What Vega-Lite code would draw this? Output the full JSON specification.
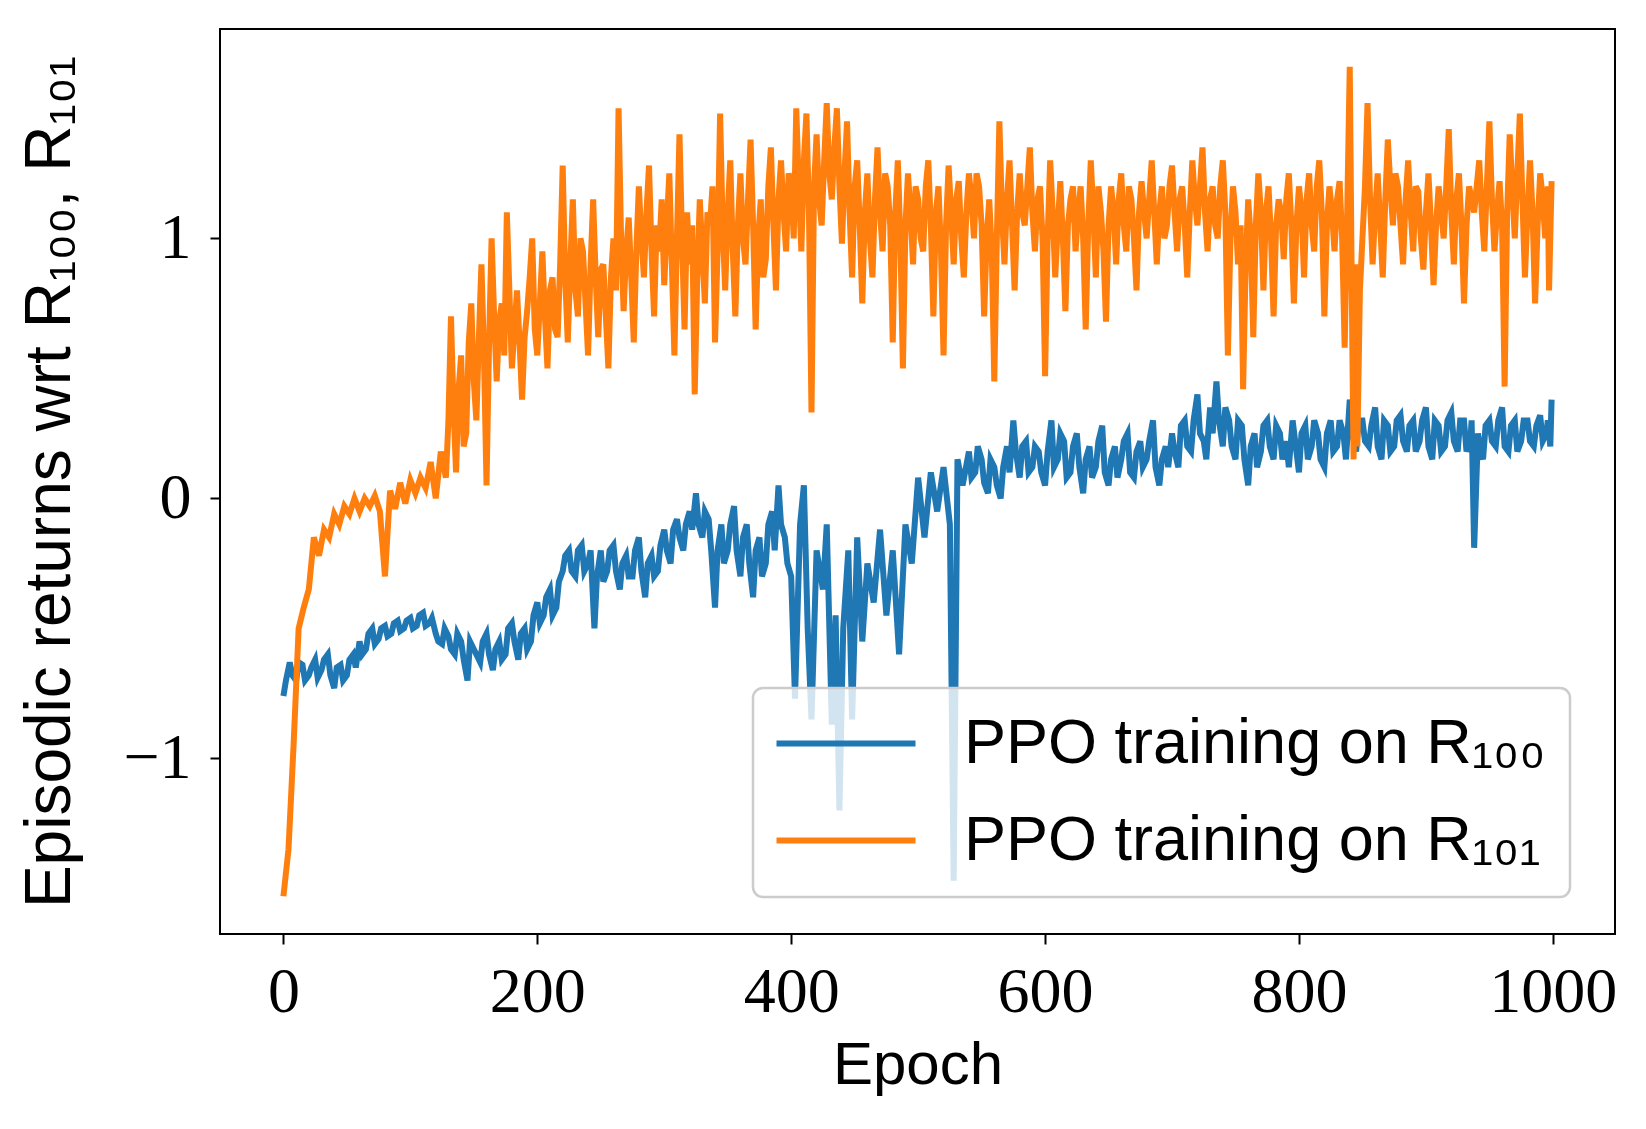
{
  "$schema": "https://vega.github.io/schema/vega-lite/v6.json",
  "width": 1395,
  "height": 905,
  "autosize": "none",
  "padding": {"left": 220, "top": 29, "right": 31, "bottom": 195},
  "background": "white",
  "datasets": {
    "r100": [
      {"epoch": 0, "run": "R₁₀₀", "ret": -0.76},
      {"epoch": 2, "run": "R₁₀₀", "ret": -0.7},
      {"epoch": 5, "run": "R₁₀₀", "ret": -0.63},
      {"epoch": 7, "run": "R₁₀₀", "ret": -0.68},
      {"epoch": 10, "run": "R₁₀₀", "ret": -0.7},
      {"epoch": 12, "run": "R₁₀₀", "ret": -0.63},
      {"epoch": 15, "run": "R₁₀₀", "ret": -0.64},
      {"epoch": 17, "run": "R₁₀₀", "ret": -0.7},
      {"epoch": 20, "run": "R₁₀₀", "ret": -0.68},
      {"epoch": 22, "run": "R₁₀₀", "ret": -0.65},
      {"epoch": 25, "run": "R₁₀₀", "ret": -0.62},
      {"epoch": 27, "run": "R₁₀₀", "ret": -0.69},
      {"epoch": 30, "run": "R₁₀₀", "ret": -0.66},
      {"epoch": 32, "run": "R₁₀₀", "ret": -0.62},
      {"epoch": 35, "run": "R₁₀₀", "ret": -0.6},
      {"epoch": 37, "run": "R₁₀₀", "ret": -0.68},
      {"epoch": 40, "run": "R₁₀₀", "ret": -0.73},
      {"epoch": 42, "run": "R₁₀₀", "ret": -0.65},
      {"epoch": 45, "run": "R₁₀₀", "ret": -0.64},
      {"epoch": 47, "run": "R₁₀₀", "ret": -0.7},
      {"epoch": 50, "run": "R₁₀₀", "ret": -0.68},
      {"epoch": 52, "run": "R₁₀₀", "ret": -0.62},
      {"epoch": 55, "run": "R₁₀₀", "ret": -0.6},
      {"epoch": 57, "run": "R₁₀₀", "ret": -0.65},
      {"epoch": 60, "run": "R₁₀₀", "ret": -0.55},
      {"epoch": 62, "run": "R₁₀₀", "ret": -0.6},
      {"epoch": 65, "run": "R₁₀₀", "ret": -0.58},
      {"epoch": 67, "run": "R₁₀₀", "ret": -0.52},
      {"epoch": 70, "run": "R₁₀₀", "ret": -0.5},
      {"epoch": 72, "run": "R₁₀₀", "ret": -0.56},
      {"epoch": 75, "run": "R₁₀₀", "ret": -0.54},
      {"epoch": 77, "run": "R₁₀₀", "ret": -0.5},
      {"epoch": 80, "run": "R₁₀₀", "ret": -0.49},
      {"epoch": 82, "run": "R₁₀₀", "ret": -0.53},
      {"epoch": 85, "run": "R₁₀₀", "ret": -0.52},
      {"epoch": 87, "run": "R₁₀₀", "ret": -0.48},
      {"epoch": 90, "run": "R₁₀₀", "ret": -0.47},
      {"epoch": 92, "run": "R₁₀₀", "ret": -0.51},
      {"epoch": 95, "run": "R₁₀₀", "ret": -0.5},
      {"epoch": 97, "run": "R₁₀₀", "ret": -0.47},
      {"epoch": 100, "run": "R₁₀₀", "ret": -0.46},
      {"epoch": 102, "run": "R₁₀₀", "ret": -0.5},
      {"epoch": 105, "run": "R₁₀₀", "ret": -0.49},
      {"epoch": 107, "run": "R₁₀₀", "ret": -0.45},
      {"epoch": 110, "run": "R₁₀₀", "ret": -0.44},
      {"epoch": 112, "run": "R₁₀₀", "ret": -0.49},
      {"epoch": 115, "run": "R₁₀₀", "ret": -0.48},
      {"epoch": 117, "run": "R₁₀₀", "ret": -0.46},
      {"epoch": 120, "run": "R₁₀₀", "ret": -0.52},
      {"epoch": 122, "run": "R₁₀₀", "ret": -0.55},
      {"epoch": 125, "run": "R₁₀₀", "ret": -0.56},
      {"epoch": 127, "run": "R₁₀₀", "ret": -0.5},
      {"epoch": 130, "run": "R₁₀₀", "ret": -0.53},
      {"epoch": 132, "run": "R₁₀₀", "ret": -0.58},
      {"epoch": 135, "run": "R₁₀₀", "ret": -0.6},
      {"epoch": 137, "run": "R₁₀₀", "ret": -0.52},
      {"epoch": 140, "run": "R₁₀₀", "ret": -0.55},
      {"epoch": 142, "run": "R₁₀₀", "ret": -0.62},
      {"epoch": 145, "run": "R₁₀₀", "ret": -0.7},
      {"epoch": 147, "run": "R₁₀₀", "ret": -0.55},
      {"epoch": 150, "run": "R₁₀₀", "ret": -0.58},
      {"epoch": 152, "run": "R₁₀₀", "ret": -0.6},
      {"epoch": 155, "run": "R₁₀₀", "ret": -0.63},
      {"epoch": 157, "run": "R₁₀₀", "ret": -0.55},
      {"epoch": 160, "run": "R₁₀₀", "ret": -0.52},
      {"epoch": 162, "run": "R₁₀₀", "ret": -0.6},
      {"epoch": 165, "run": "R₁₀₀", "ret": -0.66},
      {"epoch": 167, "run": "R₁₀₀", "ret": -0.58},
      {"epoch": 170, "run": "R₁₀₀", "ret": -0.55},
      {"epoch": 172, "run": "R₁₀₀", "ret": -0.62},
      {"epoch": 175, "run": "R₁₀₀", "ret": -0.6},
      {"epoch": 177, "run": "R₁₀₀", "ret": -0.5},
      {"epoch": 180, "run": "R₁₀₀", "ret": -0.48},
      {"epoch": 182, "run": "R₁₀₀", "ret": -0.55},
      {"epoch": 185, "run": "R₁₀₀", "ret": -0.62},
      {"epoch": 187, "run": "R₁₀₀", "ret": -0.52},
      {"epoch": 190, "run": "R₁₀₀", "ret": -0.5},
      {"epoch": 192, "run": "R₁₀₀", "ret": -0.58},
      {"epoch": 195, "run": "R₁₀₀", "ret": -0.55},
      {"epoch": 197, "run": "R₁₀₀", "ret": -0.45},
      {"epoch": 200, "run": "R₁₀₀", "ret": -0.4},
      {"epoch": 202, "run": "R₁₀₀", "ret": -0.48},
      {"epoch": 205, "run": "R₁₀₀", "ret": -0.45},
      {"epoch": 207, "run": "R₁₀₀", "ret": -0.38},
      {"epoch": 210, "run": "R₁₀₀", "ret": -0.35},
      {"epoch": 212, "run": "R₁₀₀", "ret": -0.45},
      {"epoch": 215, "run": "R₁₀₀", "ret": -0.42},
      {"epoch": 217, "run": "R₁₀₀", "ret": -0.32},
      {"epoch": 220, "run": "R₁₀₀", "ret": -0.28},
      {"epoch": 222, "run": "R₁₀₀", "ret": -0.22},
      {"epoch": 225, "run": "R₁₀₀", "ret": -0.2},
      {"epoch": 227, "run": "R₁₀₀", "ret": -0.28},
      {"epoch": 230, "run": "R₁₀₀", "ret": -0.3},
      {"epoch": 232, "run": "R₁₀₀", "ret": -0.2},
      {"epoch": 235, "run": "R₁₀₀", "ret": -0.18},
      {"epoch": 237, "run": "R₁₀₀", "ret": -0.28},
      {"epoch": 240, "run": "R₁₀₀", "ret": -0.25},
      {"epoch": 242, "run": "R₁₀₀", "ret": -0.2},
      {"epoch": 245, "run": "R₁₀₀", "ret": -0.5},
      {"epoch": 247, "run": "R₁₀₀", "ret": -0.3},
      {"epoch": 250, "run": "R₁₀₀", "ret": -0.2},
      {"epoch": 252, "run": "R₁₀₀", "ret": -0.32},
      {"epoch": 255, "run": "R₁₀₀", "ret": -0.28},
      {"epoch": 257, "run": "R₁₀₀", "ret": -0.2},
      {"epoch": 260, "run": "R₁₀₀", "ret": -0.18},
      {"epoch": 262, "run": "R₁₀₀", "ret": -0.28},
      {"epoch": 265, "run": "R₁₀₀", "ret": -0.35},
      {"epoch": 267, "run": "R₁₀₀", "ret": -0.25},
      {"epoch": 270, "run": "R₁₀₀", "ret": -0.22},
      {"epoch": 272, "run": "R₁₀₀", "ret": -0.3},
      {"epoch": 275, "run": "R₁₀₀", "ret": -0.3},
      {"epoch": 277, "run": "R₁₀₀", "ret": -0.2},
      {"epoch": 280, "run": "R₁₀₀", "ret": -0.15},
      {"epoch": 282, "run": "R₁₀₀", "ret": -0.28},
      {"epoch": 285, "run": "R₁₀₀", "ret": -0.38},
      {"epoch": 287, "run": "R₁₀₀", "ret": -0.25},
      {"epoch": 290, "run": "R₁₀₀", "ret": -0.22},
      {"epoch": 292, "run": "R₁₀₀", "ret": -0.3},
      {"epoch": 295, "run": "R₁₀₀", "ret": -0.28},
      {"epoch": 297, "run": "R₁₀₀", "ret": -0.18},
      {"epoch": 300, "run": "R₁₀₀", "ret": -0.12},
      {"epoch": 302, "run": "R₁₀₀", "ret": -0.2},
      {"epoch": 305, "run": "R₁₀₀", "ret": -0.25},
      {"epoch": 307, "run": "R₁₀₀", "ret": -0.12},
      {"epoch": 310, "run": "R₁₀₀", "ret": -0.08},
      {"epoch": 312, "run": "R₁₀₀", "ret": -0.15},
      {"epoch": 315, "run": "R₁₀₀", "ret": -0.2},
      {"epoch": 317, "run": "R₁₀₀", "ret": -0.1},
      {"epoch": 320, "run": "R₁₀₀", "ret": -0.05},
      {"epoch": 322, "run": "R₁₀₀", "ret": -0.12},
      {"epoch": 325, "run": "R₁₀₀", "ret": 0.02},
      {"epoch": 327, "run": "R₁₀₀", "ret": -0.1},
      {"epoch": 330, "run": "R₁₀₀", "ret": -0.15},
      {"epoch": 332, "run": "R₁₀₀", "ret": -0.05},
      {"epoch": 335, "run": "R₁₀₀", "ret": -0.08},
      {"epoch": 337, "run": "R₁₀₀", "ret": -0.2},
      {"epoch": 340, "run": "R₁₀₀", "ret": -0.42},
      {"epoch": 342, "run": "R₁₀₀", "ret": -0.2},
      {"epoch": 345, "run": "R₁₀₀", "ret": -0.1},
      {"epoch": 347, "run": "R₁₀₀", "ret": -0.25},
      {"epoch": 350, "run": "R₁₀₀", "ret": -0.2},
      {"epoch": 352, "run": "R₁₀₀", "ret": -0.1},
      {"epoch": 355, "run": "R₁₀₀", "ret": -0.03},
      {"epoch": 357, "run": "R₁₀₀", "ret": -0.2},
      {"epoch": 360, "run": "R₁₀₀", "ret": -0.3},
      {"epoch": 362, "run": "R₁₀₀", "ret": -0.15},
      {"epoch": 365, "run": "R₁₀₀", "ret": -0.1},
      {"epoch": 367, "run": "R₁₀₀", "ret": -0.25},
      {"epoch": 370, "run": "R₁₀₀", "ret": -0.38},
      {"epoch": 372, "run": "R₁₀₀", "ret": -0.2},
      {"epoch": 375, "run": "R₁₀₀", "ret": -0.15},
      {"epoch": 377, "run": "R₁₀₀", "ret": -0.3},
      {"epoch": 380, "run": "R₁₀₀", "ret": -0.25},
      {"epoch": 382, "run": "R₁₀₀", "ret": -0.1},
      {"epoch": 385, "run": "R₁₀₀", "ret": -0.05},
      {"epoch": 387, "run": "R₁₀₀", "ret": -0.2},
      {"epoch": 390, "run": "R₁₀₀", "ret": 0.05},
      {"epoch": 392, "run": "R₁₀₀", "ret": -0.1},
      {"epoch": 395, "run": "R₁₀₀", "ret": -0.15},
      {"epoch": 397, "run": "R₁₀₀", "ret": -0.25},
      {"epoch": 400, "run": "R₁₀₀", "ret": -0.3},
      {"epoch": 403, "run": "R₁₀₀", "ret": -0.77},
      {"epoch": 407, "run": "R₁₀₀", "ret": -0.1},
      {"epoch": 410, "run": "R₁₀₀", "ret": 0.05},
      {"epoch": 413, "run": "R₁₀₀", "ret": -0.5},
      {"epoch": 416, "run": "R₁₀₀", "ret": -0.85},
      {"epoch": 420, "run": "R₁₀₀", "ret": -0.2},
      {"epoch": 425, "run": "R₁₀₀", "ret": -0.35},
      {"epoch": 428, "run": "R₁₀₀", "ret": -0.1},
      {"epoch": 432, "run": "R₁₀₀", "ret": -0.87},
      {"epoch": 435, "run": "R₁₀₀", "ret": -0.45},
      {"epoch": 438, "run": "R₁₀₀", "ret": -1.2},
      {"epoch": 441, "run": "R₁₀₀", "ret": -0.5},
      {"epoch": 445, "run": "R₁₀₀", "ret": -0.2},
      {"epoch": 448, "run": "R₁₀₀", "ret": -0.85},
      {"epoch": 452, "run": "R₁₀₀", "ret": -0.15},
      {"epoch": 456, "run": "R₁₀₀", "ret": -0.55},
      {"epoch": 460, "run": "R₁₀₀", "ret": -0.25},
      {"epoch": 465, "run": "R₁₀₀", "ret": -0.4},
      {"epoch": 470, "run": "R₁₀₀", "ret": -0.12},
      {"epoch": 475, "run": "R₁₀₀", "ret": -0.45},
      {"epoch": 480, "run": "R₁₀₀", "ret": -0.2},
      {"epoch": 485, "run": "R₁₀₀", "ret": -0.6},
      {"epoch": 490, "run": "R₁₀₀", "ret": -0.1},
      {"epoch": 495, "run": "R₁₀₀", "ret": -0.25},
      {"epoch": 500, "run": "R₁₀₀", "ret": 0.08},
      {"epoch": 505, "run": "R₁₀₀", "ret": -0.15},
      {"epoch": 510, "run": "R₁₀₀", "ret": 0.1},
      {"epoch": 515, "run": "R₁₀₀", "ret": -0.05},
      {"epoch": 520, "run": "R₁₀₀", "ret": 0.12},
      {"epoch": 525, "run": "R₁₀₀", "ret": -0.1},
      {"epoch": 528, "run": "R₁₀₀", "ret": -1.47},
      {"epoch": 531, "run": "R₁₀₀", "ret": 0.15},
      {"epoch": 535, "run": "R₁₀₀", "ret": 0.05},
      {"epoch": 540, "run": "R₁₀₀", "ret": 0.18},
      {"epoch": 542, "run": "R₁₀₀", "ret": 0.08},
      {"epoch": 545, "run": "R₁₀₀", "ret": 0.1},
      {"epoch": 547, "run": "R₁₀₀", "ret": 0.2},
      {"epoch": 550, "run": "R₁₀₀", "ret": 0.15},
      {"epoch": 552, "run": "R₁₀₀", "ret": 0.06},
      {"epoch": 555, "run": "R₁₀₀", "ret": 0.02},
      {"epoch": 557, "run": "R₁₀₀", "ret": 0.15},
      {"epoch": 560, "run": "R₁₀₀", "ret": 0.12},
      {"epoch": 562, "run": "R₁₀₀", "ret": 0.05},
      {"epoch": 565, "run": "R₁₀₀", "ret": 0.0},
      {"epoch": 567, "run": "R₁₀₀", "ret": 0.12},
      {"epoch": 570, "run": "R₁₀₀", "ret": 0.2},
      {"epoch": 572, "run": "R₁₀₀", "ret": 0.1},
      {"epoch": 575, "run": "R₁₀₀", "ret": 0.3},
      {"epoch": 577, "run": "R₁₀₀", "ret": 0.18},
      {"epoch": 580, "run": "R₁₀₀", "ret": 0.08},
      {"epoch": 582, "run": "R₁₀₀", "ret": 0.2},
      {"epoch": 585, "run": "R₁₀₀", "ret": 0.22},
      {"epoch": 587, "run": "R₁₀₀", "ret": 0.1},
      {"epoch": 590, "run": "R₁₀₀", "ret": 0.12},
      {"epoch": 592, "run": "R₁₀₀", "ret": 0.2},
      {"epoch": 595, "run": "R₁₀₀", "ret": 0.18},
      {"epoch": 597, "run": "R₁₀₀", "ret": 0.1},
      {"epoch": 600, "run": "R₁₀₀", "ret": 0.05},
      {"epoch": 602, "run": "R₁₀₀", "ret": 0.18},
      {"epoch": 605, "run": "R₁₀₀", "ret": 0.3},
      {"epoch": 607, "run": "R₁₀₀", "ret": 0.12},
      {"epoch": 610, "run": "R₁₀₀", "ret": 0.15},
      {"epoch": 612, "run": "R₁₀₀", "ret": 0.25},
      {"epoch": 615, "run": "R₁₀₀", "ret": 0.22},
      {"epoch": 617, "run": "R₁₀₀", "ret": 0.08},
      {"epoch": 620, "run": "R₁₀₀", "ret": 0.1},
      {"epoch": 622, "run": "R₁₀₀", "ret": 0.2},
      {"epoch": 625, "run": "R₁₀₀", "ret": 0.25},
      {"epoch": 627, "run": "R₁₀₀", "ret": 0.12},
      {"epoch": 630, "run": "R₁₀₀", "ret": 0.02},
      {"epoch": 632, "run": "R₁₀₀", "ret": 0.15},
      {"epoch": 635, "run": "R₁₀₀", "ret": 0.2},
      {"epoch": 637, "run": "R₁₀₀", "ret": 0.08},
      {"epoch": 640, "run": "R₁₀₀", "ret": 0.12},
      {"epoch": 642, "run": "R₁₀₀", "ret": 0.22},
      {"epoch": 645, "run": "R₁₀₀", "ret": 0.28},
      {"epoch": 647, "run": "R₁₀₀", "ret": 0.1},
      {"epoch": 650, "run": "R₁₀₀", "ret": 0.05},
      {"epoch": 652, "run": "R₁₀₀", "ret": 0.15},
      {"epoch": 655, "run": "R₁₀₀", "ret": 0.2},
      {"epoch": 657, "run": "R₁₀₀", "ret": 0.08},
      {"epoch": 660, "run": "R₁₀₀", "ret": 0.15},
      {"epoch": 662, "run": "R₁₀₀", "ret": 0.22},
      {"epoch": 665, "run": "R₁₀₀", "ret": 0.25},
      {"epoch": 667, "run": "R₁₀₀", "ret": 0.1},
      {"epoch": 670, "run": "R₁₀₀", "ret": 0.08},
      {"epoch": 672, "run": "R₁₀₀", "ret": 0.18},
      {"epoch": 675, "run": "R₁₀₀", "ret": 0.22},
      {"epoch": 677, "run": "R₁₀₀", "ret": 0.12},
      {"epoch": 680, "run": "R₁₀₀", "ret": 0.15},
      {"epoch": 682, "run": "R₁₀₀", "ret": 0.22},
      {"epoch": 685, "run": "R₁₀₀", "ret": 0.3},
      {"epoch": 687, "run": "R₁₀₀", "ret": 0.12},
      {"epoch": 690, "run": "R₁₀₀", "ret": 0.05},
      {"epoch": 692, "run": "R₁₀₀", "ret": 0.15},
      {"epoch": 695, "run": "R₁₀₀", "ret": 0.2},
      {"epoch": 697, "run": "R₁₀₀", "ret": 0.12},
      {"epoch": 700, "run": "R₁₀₀", "ret": 0.25},
      {"epoch": 702, "run": "R₁₀₀", "ret": 0.18},
      {"epoch": 705, "run": "R₁₀₀", "ret": 0.12},
      {"epoch": 707, "run": "R₁₀₀", "ret": 0.28},
      {"epoch": 710, "run": "R₁₀₀", "ret": 0.3},
      {"epoch": 712, "run": "R₁₀₀", "ret": 0.2},
      {"epoch": 715, "run": "R₁₀₀", "ret": 0.18},
      {"epoch": 717, "run": "R₁₀₀", "ret": 0.3},
      {"epoch": 720, "run": "R₁₀₀", "ret": 0.4},
      {"epoch": 722, "run": "R₁₀₀", "ret": 0.25},
      {"epoch": 725, "run": "R₁₀₀", "ret": 0.22},
      {"epoch": 727, "run": "R₁₀₀", "ret": 0.15},
      {"epoch": 730, "run": "R₁₀₀", "ret": 0.35},
      {"epoch": 732, "run": "R₁₀₀", "ret": 0.25},
      {"epoch": 735, "run": "R₁₀₀", "ret": 0.45},
      {"epoch": 737, "run": "R₁₀₀", "ret": 0.3},
      {"epoch": 740, "run": "R₁₀₀", "ret": 0.2},
      {"epoch": 742, "run": "R₁₀₀", "ret": 0.35},
      {"epoch": 745, "run": "R₁₀₀", "ret": 0.3},
      {"epoch": 747, "run": "R₁₀₀", "ret": 0.2},
      {"epoch": 750, "run": "R₁₀₀", "ret": 0.15},
      {"epoch": 752, "run": "R₁₀₀", "ret": 0.3},
      {"epoch": 755, "run": "R₁₀₀", "ret": 0.28},
      {"epoch": 757, "run": "R₁₀₀", "ret": 0.15},
      {"epoch": 760, "run": "R₁₀₀", "ret": 0.05},
      {"epoch": 762, "run": "R₁₀₀", "ret": 0.2},
      {"epoch": 765, "run": "R₁₀₀", "ret": 0.25},
      {"epoch": 767, "run": "R₁₀₀", "ret": 0.12},
      {"epoch": 770, "run": "R₁₀₀", "ret": 0.18},
      {"epoch": 772, "run": "R₁₀₀", "ret": 0.28},
      {"epoch": 775, "run": "R₁₀₀", "ret": 0.3},
      {"epoch": 777, "run": "R₁₀₀", "ret": 0.2},
      {"epoch": 780, "run": "R₁₀₀", "ret": 0.15},
      {"epoch": 782, "run": "R₁₀₀", "ret": 0.28},
      {"epoch": 785, "run": "R₁₀₀", "ret": 0.25},
      {"epoch": 787, "run": "R₁₀₀", "ret": 0.15},
      {"epoch": 790, "run": "R₁₀₀", "ret": 0.22},
      {"epoch": 792, "run": "R₁₀₀", "ret": 0.12},
      {"epoch": 795, "run": "R₁₀₀", "ret": 0.3},
      {"epoch": 797, "run": "R₁₀₀", "ret": 0.22},
      {"epoch": 800, "run": "R₁₀₀", "ret": 0.1},
      {"epoch": 802, "run": "R₁₀₀", "ret": 0.25},
      {"epoch": 805, "run": "R₁₀₀", "ret": 0.28},
      {"epoch": 807, "run": "R₁₀₀", "ret": 0.15},
      {"epoch": 810, "run": "R₁₀₀", "ret": 0.2},
      {"epoch": 812, "run": "R₁₀₀", "ret": 0.3},
      {"epoch": 815, "run": "R₁₀₀", "ret": 0.25},
      {"epoch": 817, "run": "R₁₀₀", "ret": 0.15},
      {"epoch": 820, "run": "R₁₀₀", "ret": 0.12},
      {"epoch": 822, "run": "R₁₀₀", "ret": 0.25},
      {"epoch": 825, "run": "R₁₀₀", "ret": 0.3},
      {"epoch": 827, "run": "R₁₀₀", "ret": 0.18},
      {"epoch": 830, "run": "R₁₀₀", "ret": 0.2},
      {"epoch": 832, "run": "R₁₀₀", "ret": 0.3},
      {"epoch": 835, "run": "R₁₀₀", "ret": 0.25},
      {"epoch": 837, "run": "R₁₀₀", "ret": 0.15},
      {"epoch": 840, "run": "R₁₀₀", "ret": 0.38},
      {"epoch": 842, "run": "R₁₀₀", "ret": 0.25},
      {"epoch": 845, "run": "R₁₀₀", "ret": 0.18},
      {"epoch": 847, "run": "R₁₀₀", "ret": 0.3},
      {"epoch": 850, "run": "R₁₀₀", "ret": 0.3},
      {"epoch": 852, "run": "R₁₀₀", "ret": 0.22},
      {"epoch": 855, "run": "R₁₀₀", "ret": 0.2},
      {"epoch": 857, "run": "R₁₀₀", "ret": 0.28},
      {"epoch": 860, "run": "R₁₀₀", "ret": 0.35},
      {"epoch": 862, "run": "R₁₀₀", "ret": 0.2},
      {"epoch": 865, "run": "R₁₀₀", "ret": 0.15},
      {"epoch": 867, "run": "R₁₀₀", "ret": 0.3},
      {"epoch": 870, "run": "R₁₀₀", "ret": 0.28},
      {"epoch": 872, "run": "R₁₀₀", "ret": 0.18},
      {"epoch": 875, "run": "R₁₀₀", "ret": 0.2},
      {"epoch": 877, "run": "R₁₀₀", "ret": 0.3},
      {"epoch": 880, "run": "R₁₀₀", "ret": 0.32},
      {"epoch": 882, "run": "R₁₀₀", "ret": 0.22},
      {"epoch": 885, "run": "R₁₀₀", "ret": 0.18},
      {"epoch": 887, "run": "R₁₀₀", "ret": 0.28},
      {"epoch": 890, "run": "R₁₀₀", "ret": 0.3},
      {"epoch": 892, "run": "R₁₀₀", "ret": 0.18},
      {"epoch": 895, "run": "R₁₀₀", "ret": 0.22},
      {"epoch": 897, "run": "R₁₀₀", "ret": 0.3},
      {"epoch": 900, "run": "R₁₀₀", "ret": 0.35},
      {"epoch": 902, "run": "R₁₀₀", "ret": 0.2},
      {"epoch": 905, "run": "R₁₀₀", "ret": 0.15},
      {"epoch": 907, "run": "R₁₀₀", "ret": 0.3},
      {"epoch": 910, "run": "R₁₀₀", "ret": 0.28},
      {"epoch": 912, "run": "R₁₀₀", "ret": 0.18},
      {"epoch": 915, "run": "R₁₀₀", "ret": 0.2},
      {"epoch": 917, "run": "R₁₀₀", "ret": 0.3},
      {"epoch": 920, "run": "R₁₀₀", "ret": 0.33},
      {"epoch": 922, "run": "R₁₀₀", "ret": 0.22},
      {"epoch": 925, "run": "R₁₀₀", "ret": 0.18},
      {"epoch": 927, "run": "R₁₀₀", "ret": 0.3},
      {"epoch": 930, "run": "R₁₀₀", "ret": 0.3},
      {"epoch": 932, "run": "R₁₀₀", "ret": 0.18},
      {"epoch": 935, "run": "R₁₀₀", "ret": 0.22},
      {"epoch": 936, "run": "R₁₀₀", "ret": 0.3},
      {"epoch": 938, "run": "R₁₀₀", "ret": -0.19},
      {"epoch": 941, "run": "R₁₀₀", "ret": 0.25},
      {"epoch": 943, "run": "R₁₀₀", "ret": 0.18},
      {"epoch": 945, "run": "R₁₀₀", "ret": 0.15},
      {"epoch": 947, "run": "R₁₀₀", "ret": 0.28},
      {"epoch": 950, "run": "R₁₀₀", "ret": 0.3},
      {"epoch": 952, "run": "R₁₀₀", "ret": 0.22},
      {"epoch": 955, "run": "R₁₀₀", "ret": 0.2},
      {"epoch": 957, "run": "R₁₀₀", "ret": 0.3},
      {"epoch": 960, "run": "R₁₀₀", "ret": 0.35},
      {"epoch": 962, "run": "R₁₀₀", "ret": 0.2},
      {"epoch": 965, "run": "R₁₀₀", "ret": 0.18},
      {"epoch": 967, "run": "R₁₀₀", "ret": 0.28},
      {"epoch": 970, "run": "R₁₀₀", "ret": 0.3},
      {"epoch": 972, "run": "R₁₀₀", "ret": 0.18},
      {"epoch": 975, "run": "R₁₀₀", "ret": 0.22},
      {"epoch": 977, "run": "R₁₀₀", "ret": 0.3},
      {"epoch": 980, "run": "R₁₀₀", "ret": 0.3},
      {"epoch": 982, "run": "R₁₀₀", "ret": 0.22},
      {"epoch": 985, "run": "R₁₀₀", "ret": 0.2},
      {"epoch": 987, "run": "R₁₀₀", "ret": 0.28},
      {"epoch": 990, "run": "R₁₀₀", "ret": 0.32},
      {"epoch": 992, "run": "R₁₀₀", "ret": 0.22},
      {"epoch": 995, "run": "R₁₀₀", "ret": 0.25},
      {"epoch": 996, "run": "R₁₀₀", "ret": 0.3},
      {"epoch": 998, "run": "R₁₀₀", "ret": 0.2},
      {"epoch": 999, "run": "R₁₀₀", "ret": 0.38}
    ],
    "r101": [
      {"epoch": 0, "run": "R₁₀₁", "ret": -1.53},
      {"epoch": 4, "run": "R₁₀₁", "ret": -1.35},
      {"epoch": 8, "run": "R₁₀₁", "ret": -0.95},
      {"epoch": 12, "run": "R₁₀₁", "ret": -0.5},
      {"epoch": 16, "run": "R₁₀₁", "ret": -0.42},
      {"epoch": 20, "run": "R₁₀₁", "ret": -0.35},
      {"epoch": 24, "run": "R₁₀₁", "ret": -0.15},
      {"epoch": 28, "run": "R₁₀₁", "ret": -0.22},
      {"epoch": 32, "run": "R₁₀₁", "ret": -0.12},
      {"epoch": 36, "run": "R₁₀₁", "ret": -0.15},
      {"epoch": 40, "run": "R₁₀₁", "ret": -0.06},
      {"epoch": 44, "run": "R₁₀₁", "ret": -0.1},
      {"epoch": 48, "run": "R₁₀₁", "ret": -0.03},
      {"epoch": 52, "run": "R₁₀₁", "ret": -0.06},
      {"epoch": 56, "run": "R₁₀₁", "ret": 0.0},
      {"epoch": 60, "run": "R₁₀₁", "ret": -0.05},
      {"epoch": 64, "run": "R₁₀₁", "ret": 0.0},
      {"epoch": 68, "run": "R₁₀₁", "ret": -0.03},
      {"epoch": 72, "run": "R₁₀₁", "ret": 0.01},
      {"epoch": 76, "run": "R₁₀₁", "ret": -0.05},
      {"epoch": 80, "run": "R₁₀₁", "ret": -0.3},
      {"epoch": 84, "run": "R₁₀₁", "ret": 0.03},
      {"epoch": 88, "run": "R₁₀₁", "ret": -0.04},
      {"epoch": 92, "run": "R₁₀₁", "ret": 0.06},
      {"epoch": 96, "run": "R₁₀₁", "ret": -0.02},
      {"epoch": 100, "run": "R₁₀₁", "ret": 0.07},
      {"epoch": 104, "run": "R₁₀₁", "ret": 0.02},
      {"epoch": 108, "run": "R₁₀₁", "ret": 0.08},
      {"epoch": 112, "run": "R₁₀₁", "ret": 0.04},
      {"epoch": 116, "run": "R₁₀₁", "ret": 0.14},
      {"epoch": 120, "run": "R₁₀₁", "ret": 0.0},
      {"epoch": 124, "run": "R₁₀₁", "ret": 0.18},
      {"epoch": 128, "run": "R₁₀₁", "ret": 0.08},
      {"epoch": 130, "run": "R₁₀₁", "ret": 0.3},
      {"epoch": 132, "run": "R₁₀₁", "ret": 0.7},
      {"epoch": 134, "run": "R₁₀₁", "ret": 0.35},
      {"epoch": 136, "run": "R₁₀₁", "ret": 0.1},
      {"epoch": 138, "run": "R₁₀₁", "ret": 0.42},
      {"epoch": 140, "run": "R₁₀₁", "ret": 0.55},
      {"epoch": 142, "run": "R₁₀₁", "ret": 0.2},
      {"epoch": 144, "run": "R₁₀₁", "ret": 0.25},
      {"epoch": 146, "run": "R₁₀₁", "ret": 0.6},
      {"epoch": 148, "run": "R₁₀₁", "ret": 0.75},
      {"epoch": 150, "run": "R₁₀₁", "ret": 0.45},
      {"epoch": 152, "run": "R₁₀₁", "ret": 0.3},
      {"epoch": 154, "run": "R₁₀₁", "ret": 0.62},
      {"epoch": 156, "run": "R₁₀₁", "ret": 0.9},
      {"epoch": 158, "run": "R₁₀₁", "ret": 0.55},
      {"epoch": 160, "run": "R₁₀₁", "ret": 0.05},
      {"epoch": 162, "run": "R₁₀₁", "ret": 0.6},
      {"epoch": 164, "run": "R₁₀₁", "ret": 1.0},
      {"epoch": 166, "run": "R₁₀₁", "ret": 0.7},
      {"epoch": 168, "run": "R₁₀₁", "ret": 0.45},
      {"epoch": 170, "run": "R₁₀₁", "ret": 0.68},
      {"epoch": 172, "run": "R₁₀₁", "ret": 0.75},
      {"epoch": 174, "run": "R₁₀₁", "ret": 0.55},
      {"epoch": 176, "run": "R₁₀₁", "ret": 1.1},
      {"epoch": 178, "run": "R₁₀₁", "ret": 0.8},
      {"epoch": 180, "run": "R₁₀₁", "ret": 0.5},
      {"epoch": 182, "run": "R₁₀₁", "ret": 0.65},
      {"epoch": 184, "run": "R₁₀₁", "ret": 0.8},
      {"epoch": 186, "run": "R₁₀₁", "ret": 0.6},
      {"epoch": 188, "run": "R₁₀₁", "ret": 0.38},
      {"epoch": 190, "run": "R₁₀₁", "ret": 0.62},
      {"epoch": 192, "run": "R₁₀₁", "ret": 0.72},
      {"epoch": 194, "run": "R₁₀₁", "ret": 0.85},
      {"epoch": 196, "run": "R₁₀₁", "ret": 1.0},
      {"epoch": 198, "run": "R₁₀₁", "ret": 0.65},
      {"epoch": 200, "run": "R₁₀₁", "ret": 0.55},
      {"epoch": 202, "run": "R₁₀₁", "ret": 0.75},
      {"epoch": 204, "run": "R₁₀₁", "ret": 0.95},
      {"epoch": 206, "run": "R₁₀₁", "ret": 0.7},
      {"epoch": 208, "run": "R₁₀₁", "ret": 0.5},
      {"epoch": 210, "run": "R₁₀₁", "ret": 0.8},
      {"epoch": 212, "run": "R₁₀₁", "ret": 0.85},
      {"epoch": 214, "run": "R₁₀₁", "ret": 0.65},
      {"epoch": 216, "run": "R₁₀₁", "ret": 0.62},
      {"epoch": 218, "run": "R₁₀₁", "ret": 0.9},
      {"epoch": 220, "run": "R₁₀₁", "ret": 1.28},
      {"epoch": 222, "run": "R₁₀₁", "ret": 0.85},
      {"epoch": 224, "run": "R₁₀₁", "ret": 0.6},
      {"epoch": 226, "run": "R₁₀₁", "ret": 0.9},
      {"epoch": 228, "run": "R₁₀₁", "ret": 1.15},
      {"epoch": 230, "run": "R₁₀₁", "ret": 0.8},
      {"epoch": 232, "run": "R₁₀₁", "ret": 0.7},
      {"epoch": 234, "run": "R₁₀₁", "ret": 1.0},
      {"epoch": 236, "run": "R₁₀₁", "ret": 0.95},
      {"epoch": 238, "run": "R₁₀₁", "ret": 0.75},
      {"epoch": 240, "run": "R₁₀₁", "ret": 0.55},
      {"epoch": 242, "run": "R₁₀₁", "ret": 0.9},
      {"epoch": 244, "run": "R₁₀₁", "ret": 1.15},
      {"epoch": 246, "run": "R₁₀₁", "ret": 0.85},
      {"epoch": 248, "run": "R₁₀₁", "ret": 0.62},
      {"epoch": 250, "run": "R₁₀₁", "ret": 0.88},
      {"epoch": 252, "run": "R₁₀₁", "ret": 0.9},
      {"epoch": 254, "run": "R₁₀₁", "ret": 0.7},
      {"epoch": 256, "run": "R₁₀₁", "ret": 0.5},
      {"epoch": 258, "run": "R₁₀₁", "ret": 0.85},
      {"epoch": 260, "run": "R₁₀₁", "ret": 1.0},
      {"epoch": 262, "run": "R₁₀₁", "ret": 0.8},
      {"epoch": 264, "run": "R₁₀₁", "ret": 1.5},
      {"epoch": 266, "run": "R₁₀₁", "ret": 1.0},
      {"epoch": 268, "run": "R₁₀₁", "ret": 0.72},
      {"epoch": 270, "run": "R₁₀₁", "ret": 0.95},
      {"epoch": 272, "run": "R₁₀₁", "ret": 1.08},
      {"epoch": 274, "run": "R₁₀₁", "ret": 0.85},
      {"epoch": 276, "run": "R₁₀₁", "ret": 0.6},
      {"epoch": 278, "run": "R₁₀₁", "ret": 0.95},
      {"epoch": 280, "run": "R₁₀₁", "ret": 1.2},
      {"epoch": 282, "run": "R₁₀₁", "ret": 1.0},
      {"epoch": 284, "run": "R₁₀₁", "ret": 0.85},
      {"epoch": 286, "run": "R₁₀₁", "ret": 1.1},
      {"epoch": 288, "run": "R₁₀₁", "ret": 1.28},
      {"epoch": 290, "run": "R₁₀₁", "ret": 0.95},
      {"epoch": 292, "run": "R₁₀₁", "ret": 0.7},
      {"epoch": 294, "run": "R₁₀₁", "ret": 1.05},
      {"epoch": 296, "run": "R₁₀₁", "ret": 0.95},
      {"epoch": 298, "run": "R₁₀₁", "ret": 1.15},
      {"epoch": 300, "run": "R₁₀₁", "ret": 0.82},
      {"epoch": 302, "run": "R₁₀₁", "ret": 1.05},
      {"epoch": 304, "run": "R₁₀₁", "ret": 1.25},
      {"epoch": 306, "run": "R₁₀₁", "ret": 0.9},
      {"epoch": 308, "run": "R₁₀₁", "ret": 0.55},
      {"epoch": 310, "run": "R₁₀₁", "ret": 1.0},
      {"epoch": 312, "run": "R₁₀₁", "ret": 1.4},
      {"epoch": 314, "run": "R₁₀₁", "ret": 1.0},
      {"epoch": 316, "run": "R₁₀₁", "ret": 0.65},
      {"epoch": 318, "run": "R₁₀₁", "ret": 1.1},
      {"epoch": 320, "run": "R₁₀₁", "ret": 0.9},
      {"epoch": 322, "run": "R₁₀₁", "ret": 1.05},
      {"epoch": 324, "run": "R₁₀₁", "ret": 0.4},
      {"epoch": 326, "run": "R₁₀₁", "ret": 0.85},
      {"epoch": 328, "run": "R₁₀₁", "ret": 1.15},
      {"epoch": 330, "run": "R₁₀₁", "ret": 0.95},
      {"epoch": 332, "run": "R₁₀₁", "ret": 0.75},
      {"epoch": 334, "run": "R₁₀₁", "ret": 1.1},
      {"epoch": 336, "run": "R₁₀₁", "ret": 1.05},
      {"epoch": 338, "run": "R₁₀₁", "ret": 1.2},
      {"epoch": 340, "run": "R₁₀₁", "ret": 0.6},
      {"epoch": 342, "run": "R₁₀₁", "ret": 0.95},
      {"epoch": 344, "run": "R₁₀₁", "ret": 1.48},
      {"epoch": 346, "run": "R₁₀₁", "ret": 1.05},
      {"epoch": 348, "run": "R₁₀₁", "ret": 0.8},
      {"epoch": 350, "run": "R₁₀₁", "ret": 1.1},
      {"epoch": 352, "run": "R₁₀₁", "ret": 1.3},
      {"epoch": 354, "run": "R₁₀₁", "ret": 0.95},
      {"epoch": 356, "run": "R₁₀₁", "ret": 0.7},
      {"epoch": 358, "run": "R₁₀₁", "ret": 1.05},
      {"epoch": 360, "run": "R₁₀₁", "ret": 1.25},
      {"epoch": 362, "run": "R₁₀₁", "ret": 1.0},
      {"epoch": 364, "run": "R₁₀₁", "ret": 0.9},
      {"epoch": 366, "run": "R₁₀₁", "ret": 1.15},
      {"epoch": 368, "run": "R₁₀₁", "ret": 1.38},
      {"epoch": 370, "run": "R₁₀₁", "ret": 1.05},
      {"epoch": 372, "run": "R₁₀₁", "ret": 0.65},
      {"epoch": 374, "run": "R₁₀₁", "ret": 1.0},
      {"epoch": 376, "run": "R₁₀₁", "ret": 1.15},
      {"epoch": 378, "run": "R₁₀₁", "ret": 0.85},
      {"epoch": 380, "run": "R₁₀₁", "ret": 0.92},
      {"epoch": 382, "run": "R₁₀₁", "ret": 1.2},
      {"epoch": 384, "run": "R₁₀₁", "ret": 1.35},
      {"epoch": 386, "run": "R₁₀₁", "ret": 1.05},
      {"epoch": 388, "run": "R₁₀₁", "ret": 0.8},
      {"epoch": 390, "run": "R₁₀₁", "ret": 1.15},
      {"epoch": 392, "run": "R₁₀₁", "ret": 1.3},
      {"epoch": 394, "run": "R₁₀₁", "ret": 1.1},
      {"epoch": 396, "run": "R₁₀₁", "ret": 0.95},
      {"epoch": 398, "run": "R₁₀₁", "ret": 1.25},
      {"epoch": 400, "run": "R₁₀₁", "ret": 1.2},
      {"epoch": 402, "run": "R₁₀₁", "ret": 1.0},
      {"epoch": 404, "run": "R₁₀₁", "ret": 1.5},
      {"epoch": 406, "run": "R₁₀₁", "ret": 1.2},
      {"epoch": 408, "run": "R₁₀₁", "ret": 0.95},
      {"epoch": 410, "run": "R₁₀₁", "ret": 1.3},
      {"epoch": 412, "run": "R₁₀₁", "ret": 1.48},
      {"epoch": 414, "run": "R₁₀₁", "ret": 1.1},
      {"epoch": 416, "run": "R₁₀₁", "ret": 0.33},
      {"epoch": 418, "run": "R₁₀₁", "ret": 1.2},
      {"epoch": 420, "run": "R₁₀₁", "ret": 1.4},
      {"epoch": 422, "run": "R₁₀₁", "ret": 1.15},
      {"epoch": 424, "run": "R₁₀₁", "ret": 1.05},
      {"epoch": 426, "run": "R₁₀₁", "ret": 1.3},
      {"epoch": 428, "run": "R₁₀₁", "ret": 1.52},
      {"epoch": 430, "run": "R₁₀₁", "ret": 1.25},
      {"epoch": 432, "run": "R₁₀₁", "ret": 1.15},
      {"epoch": 434, "run": "R₁₀₁", "ret": 1.35},
      {"epoch": 436, "run": "R₁₀₁", "ret": 1.5},
      {"epoch": 438, "run": "R₁₀₁", "ret": 1.2},
      {"epoch": 440, "run": "R₁₀₁", "ret": 0.98},
      {"epoch": 442, "run": "R₁₀₁", "ret": 1.25},
      {"epoch": 444, "run": "R₁₀₁", "ret": 1.45},
      {"epoch": 446, "run": "R₁₀₁", "ret": 1.1},
      {"epoch": 448, "run": "R₁₀₁", "ret": 0.85},
      {"epoch": 450, "run": "R₁₀₁", "ret": 1.2},
      {"epoch": 452, "run": "R₁₀₁", "ret": 1.3},
      {"epoch": 454, "run": "R₁₀₁", "ret": 1.05},
      {"epoch": 456, "run": "R₁₀₁", "ret": 0.75},
      {"epoch": 458, "run": "R₁₀₁", "ret": 1.1},
      {"epoch": 460, "run": "R₁₀₁", "ret": 1.25},
      {"epoch": 462, "run": "R₁₀₁", "ret": 1.0},
      {"epoch": 464, "run": "R₁₀₁", "ret": 0.85},
      {"epoch": 466, "run": "R₁₀₁", "ret": 1.15},
      {"epoch": 468, "run": "R₁₀₁", "ret": 1.35},
      {"epoch": 470, "run": "R₁₀₁", "ret": 1.1},
      {"epoch": 472, "run": "R₁₀₁", "ret": 0.95},
      {"epoch": 474, "run": "R₁₀₁", "ret": 1.25},
      {"epoch": 476, "run": "R₁₀₁", "ret": 1.2},
      {"epoch": 478, "run": "R₁₀₁", "ret": 1.05},
      {"epoch": 480, "run": "R₁₀₁", "ret": 0.6},
      {"epoch": 482, "run": "R₁₀₁", "ret": 1.1},
      {"epoch": 484, "run": "R₁₀₁", "ret": 1.3},
      {"epoch": 486, "run": "R₁₀₁", "ret": 1.0},
      {"epoch": 488, "run": "R₁₀₁", "ret": 0.5},
      {"epoch": 490, "run": "R₁₀₁", "ret": 1.05},
      {"epoch": 492, "run": "R₁₀₁", "ret": 1.25},
      {"epoch": 494, "run": "R₁₀₁", "ret": 1.1},
      {"epoch": 496, "run": "R₁₀₁", "ret": 0.9},
      {"epoch": 498, "run": "R₁₀₁", "ret": 1.2},
      {"epoch": 500, "run": "R₁₀₁", "ret": 1.15},
      {"epoch": 502, "run": "R₁₀₁", "ret": 1.0},
      {"epoch": 504, "run": "R₁₀₁", "ret": 0.95},
      {"epoch": 506, "run": "R₁₀₁", "ret": 1.2},
      {"epoch": 508, "run": "R₁₀₁", "ret": 1.3},
      {"epoch": 510, "run": "R₁₀₁", "ret": 1.05},
      {"epoch": 512, "run": "R₁₀₁", "ret": 0.7},
      {"epoch": 514, "run": "R₁₀₁", "ret": 1.1},
      {"epoch": 516, "run": "R₁₀₁", "ret": 1.2},
      {"epoch": 518, "run": "R₁₀₁", "ret": 0.95},
      {"epoch": 520, "run": "R₁₀₁", "ret": 0.55},
      {"epoch": 522, "run": "R₁₀₁", "ret": 1.05},
      {"epoch": 524, "run": "R₁₀₁", "ret": 1.28},
      {"epoch": 526, "run": "R₁₀₁", "ret": 1.1},
      {"epoch": 528, "run": "R₁₀₁", "ret": 0.9},
      {"epoch": 530, "run": "R₁₀₁", "ret": 1.15},
      {"epoch": 532, "run": "R₁₀₁", "ret": 1.22},
      {"epoch": 534, "run": "R₁₀₁", "ret": 1.0},
      {"epoch": 536, "run": "R₁₀₁", "ret": 0.85},
      {"epoch": 538, "run": "R₁₀₁", "ret": 1.1},
      {"epoch": 540, "run": "R₁₀₁", "ret": 1.25},
      {"epoch": 542, "run": "R₁₀₁", "ret": 1.15},
      {"epoch": 544, "run": "R₁₀₁", "ret": 1.0},
      {"epoch": 546, "run": "R₁₀₁", "ret": 1.25},
      {"epoch": 548, "run": "R₁₀₁", "ret": 1.2},
      {"epoch": 550, "run": "R₁₀₁", "ret": 1.05},
      {"epoch": 552, "run": "R₁₀₁", "ret": 0.7},
      {"epoch": 554, "run": "R₁₀₁", "ret": 1.0},
      {"epoch": 556, "run": "R₁₀₁", "ret": 1.15},
      {"epoch": 558, "run": "R₁₀₁", "ret": 0.95},
      {"epoch": 560, "run": "R₁₀₁", "ret": 0.45},
      {"epoch": 562, "run": "R₁₀₁", "ret": 1.0},
      {"epoch": 564, "run": "R₁₀₁", "ret": 1.45},
      {"epoch": 566, "run": "R₁₀₁", "ret": 1.1},
      {"epoch": 568, "run": "R₁₀₁", "ret": 0.9},
      {"epoch": 570, "run": "R₁₀₁", "ret": 1.15},
      {"epoch": 572, "run": "R₁₀₁", "ret": 1.3},
      {"epoch": 574, "run": "R₁₀₁", "ret": 1.05},
      {"epoch": 576, "run": "R₁₀₁", "ret": 0.8},
      {"epoch": 578, "run": "R₁₀₁", "ret": 1.1},
      {"epoch": 580, "run": "R₁₀₁", "ret": 1.25},
      {"epoch": 582, "run": "R₁₀₁", "ret": 1.1},
      {"epoch": 584, "run": "R₁₀₁", "ret": 1.05},
      {"epoch": 586, "run": "R₁₀₁", "ret": 1.2},
      {"epoch": 588, "run": "R₁₀₁", "ret": 1.35},
      {"epoch": 590, "run": "R₁₀₁", "ret": 1.1},
      {"epoch": 592, "run": "R₁₀₁", "ret": 0.95},
      {"epoch": 594, "run": "R₁₀₁", "ret": 1.15},
      {"epoch": 596, "run": "R₁₀₁", "ret": 1.2},
      {"epoch": 598, "run": "R₁₀₁", "ret": 1.0},
      {"epoch": 600, "run": "R₁₀₁", "ret": 0.47},
      {"epoch": 602, "run": "R₁₀₁", "ret": 1.0},
      {"epoch": 604, "run": "R₁₀₁", "ret": 1.3},
      {"epoch": 606, "run": "R₁₀₁", "ret": 1.1},
      {"epoch": 608, "run": "R₁₀₁", "ret": 0.85},
      {"epoch": 610, "run": "R₁₀₁", "ret": 1.05},
      {"epoch": 612, "run": "R₁₀₁", "ret": 1.22},
      {"epoch": 614, "run": "R₁₀₁", "ret": 1.0},
      {"epoch": 616, "run": "R₁₀₁", "ret": 0.72},
      {"epoch": 618, "run": "R₁₀₁", "ret": 1.05},
      {"epoch": 620, "run": "R₁₀₁", "ret": 1.15},
      {"epoch": 622, "run": "R₁₀₁", "ret": 1.2},
      {"epoch": 624, "run": "R₁₀₁", "ret": 0.95},
      {"epoch": 626, "run": "R₁₀₁", "ret": 1.1},
      {"epoch": 628, "run": "R₁₀₁", "ret": 1.2},
      {"epoch": 630, "run": "R₁₀₁", "ret": 1.0},
      {"epoch": 632, "run": "R₁₀₁", "ret": 0.65},
      {"epoch": 634, "run": "R₁₀₁", "ret": 1.05},
      {"epoch": 636, "run": "R₁₀₁", "ret": 1.3},
      {"epoch": 638, "run": "R₁₀₁", "ret": 1.1},
      {"epoch": 640, "run": "R₁₀₁", "ret": 0.85},
      {"epoch": 642, "run": "R₁₀₁", "ret": 1.2},
      {"epoch": 644, "run": "R₁₀₁", "ret": 1.1},
      {"epoch": 646, "run": "R₁₀₁", "ret": 0.95},
      {"epoch": 648, "run": "R₁₀₁", "ret": 0.68},
      {"epoch": 650, "run": "R₁₀₁", "ret": 1.05},
      {"epoch": 652, "run": "R₁₀₁", "ret": 1.2},
      {"epoch": 654, "run": "R₁₀₁", "ret": 1.1},
      {"epoch": 656, "run": "R₁₀₁", "ret": 0.9},
      {"epoch": 658, "run": "R₁₀₁", "ret": 1.15},
      {"epoch": 660, "run": "R₁₀₁", "ret": 1.25},
      {"epoch": 662, "run": "R₁₀₁", "ret": 1.05},
      {"epoch": 664, "run": "R₁₀₁", "ret": 0.95},
      {"epoch": 666, "run": "R₁₀₁", "ret": 1.2},
      {"epoch": 668, "run": "R₁₀₁", "ret": 1.15},
      {"epoch": 670, "run": "R₁₀₁", "ret": 1.0},
      {"epoch": 672, "run": "R₁₀₁", "ret": 0.8},
      {"epoch": 674, "run": "R₁₀₁", "ret": 1.1},
      {"epoch": 676, "run": "R₁₀₁", "ret": 1.22},
      {"epoch": 678, "run": "R₁₀₁", "ret": 1.1},
      {"epoch": 680, "run": "R₁₀₁", "ret": 1.0},
      {"epoch": 682, "run": "R₁₀₁", "ret": 1.15},
      {"epoch": 684, "run": "R₁₀₁", "ret": 1.3},
      {"epoch": 686, "run": "R₁₀₁", "ret": 1.1},
      {"epoch": 688, "run": "R₁₀₁", "ret": 0.9},
      {"epoch": 690, "run": "R₁₀₁", "ret": 1.1},
      {"epoch": 692, "run": "R₁₀₁", "ret": 1.2},
      {"epoch": 694, "run": "R₁₀₁", "ret": 1.0},
      {"epoch": 696, "run": "R₁₀₁", "ret": 1.05},
      {"epoch": 698, "run": "R₁₀₁", "ret": 1.2},
      {"epoch": 700, "run": "R₁₀₁", "ret": 1.28},
      {"epoch": 702, "run": "R₁₀₁", "ret": 1.1},
      {"epoch": 704, "run": "R₁₀₁", "ret": 0.95},
      {"epoch": 706, "run": "R₁₀₁", "ret": 1.15},
      {"epoch": 708, "run": "R₁₀₁", "ret": 1.2},
      {"epoch": 710, "run": "R₁₀₁", "ret": 1.05},
      {"epoch": 712, "run": "R₁₀₁", "ret": 0.85},
      {"epoch": 714, "run": "R₁₀₁", "ret": 1.1},
      {"epoch": 716, "run": "R₁₀₁", "ret": 1.3},
      {"epoch": 718, "run": "R₁₀₁", "ret": 1.15},
      {"epoch": 720, "run": "R₁₀₁", "ret": 1.05},
      {"epoch": 722, "run": "R₁₀₁", "ret": 1.2},
      {"epoch": 724, "run": "R₁₀₁", "ret": 1.35},
      {"epoch": 726, "run": "R₁₀₁", "ret": 1.1},
      {"epoch": 728, "run": "R₁₀₁", "ret": 0.95},
      {"epoch": 730, "run": "R₁₀₁", "ret": 1.15},
      {"epoch": 732, "run": "R₁₀₁", "ret": 1.2},
      {"epoch": 734, "run": "R₁₀₁", "ret": 1.05},
      {"epoch": 736, "run": "R₁₀₁", "ret": 1.0},
      {"epoch": 738, "run": "R₁₀₁", "ret": 1.2},
      {"epoch": 740, "run": "R₁₀₁", "ret": 1.3},
      {"epoch": 742, "run": "R₁₀₁", "ret": 1.1},
      {"epoch": 744, "run": "R₁₀₁", "ret": 0.55},
      {"epoch": 746, "run": "R₁₀₁", "ret": 1.0},
      {"epoch": 748, "run": "R₁₀₁", "ret": 1.2},
      {"epoch": 750, "run": "R₁₀₁", "ret": 1.1},
      {"epoch": 752, "run": "R₁₀₁", "ret": 0.9},
      {"epoch": 754, "run": "R₁₀₁", "ret": 1.05},
      {"epoch": 756, "run": "R₁₀₁", "ret": 0.42},
      {"epoch": 758, "run": "R₁₀₁", "ret": 0.9},
      {"epoch": 760, "run": "R₁₀₁", "ret": 1.15},
      {"epoch": 762, "run": "R₁₀₁", "ret": 1.0},
      {"epoch": 764, "run": "R₁₀₁", "ret": 0.62},
      {"epoch": 766, "run": "R₁₀₁", "ret": 1.05},
      {"epoch": 768, "run": "R₁₀₁", "ret": 1.25},
      {"epoch": 770, "run": "R₁₀₁", "ret": 1.1},
      {"epoch": 772, "run": "R₁₀₁", "ret": 0.8},
      {"epoch": 774, "run": "R₁₀₁", "ret": 1.1},
      {"epoch": 776, "run": "R₁₀₁", "ret": 1.2},
      {"epoch": 778, "run": "R₁₀₁", "ret": 1.0},
      {"epoch": 780, "run": "R₁₀₁", "ret": 0.7},
      {"epoch": 782, "run": "R₁₀₁", "ret": 1.05},
      {"epoch": 784, "run": "R₁₀₁", "ret": 1.15},
      {"epoch": 786, "run": "R₁₀₁", "ret": 1.1},
      {"epoch": 788, "run": "R₁₀₁", "ret": 0.92},
      {"epoch": 790, "run": "R₁₀₁", "ret": 1.15},
      {"epoch": 792, "run": "R₁₀₁", "ret": 1.25},
      {"epoch": 794, "run": "R₁₀₁", "ret": 1.05},
      {"epoch": 796, "run": "R₁₀₁", "ret": 0.75},
      {"epoch": 798, "run": "R₁₀₁", "ret": 1.05},
      {"epoch": 800, "run": "R₁₀₁", "ret": 1.2},
      {"epoch": 802, "run": "R₁₀₁", "ret": 1.1},
      {"epoch": 804, "run": "R₁₀₁", "ret": 0.85},
      {"epoch": 806, "run": "R₁₀₁", "ret": 1.15},
      {"epoch": 808, "run": "R₁₀₁", "ret": 1.25},
      {"epoch": 810, "run": "R₁₀₁", "ret": 1.05},
      {"epoch": 812, "run": "R₁₀₁", "ret": 0.95},
      {"epoch": 814, "run": "R₁₀₁", "ret": 1.2},
      {"epoch": 816, "run": "R₁₀₁", "ret": 1.3},
      {"epoch": 818, "run": "R₁₀₁", "ret": 1.1},
      {"epoch": 820, "run": "R₁₀₁", "ret": 0.7},
      {"epoch": 822, "run": "R₁₀₁", "ret": 1.05},
      {"epoch": 824, "run": "R₁₀₁", "ret": 1.2},
      {"epoch": 826, "run": "R₁₀₁", "ret": 1.1},
      {"epoch": 828, "run": "R₁₀₁", "ret": 0.95},
      {"epoch": 830, "run": "R₁₀₁", "ret": 1.15},
      {"epoch": 832, "run": "R₁₀₁", "ret": 1.22},
      {"epoch": 834, "run": "R₁₀₁", "ret": 1.0},
      {"epoch": 836, "run": "R₁₀₁", "ret": 0.58},
      {"epoch": 838, "run": "R₁₀₁", "ret": 1.1},
      {"epoch": 840, "run": "R₁₀₁", "ret": 1.66},
      {"epoch": 842, "run": "R₁₀₁", "ret": 0.6},
      {"epoch": 843, "run": "R₁₀₁", "ret": 0.15},
      {"epoch": 845, "run": "R₁₀₁", "ret": 0.9},
      {"epoch": 846, "run": "R₁₀₁", "ret": 0.2},
      {"epoch": 848, "run": "R₁₀₁", "ret": 0.8},
      {"epoch": 850, "run": "R₁₀₁", "ret": 1.0},
      {"epoch": 852, "run": "R₁₀₁", "ret": 1.2},
      {"epoch": 854, "run": "R₁₀₁", "ret": 1.52},
      {"epoch": 856, "run": "R₁₀₁", "ret": 1.15},
      {"epoch": 858, "run": "R₁₀₁", "ret": 0.9},
      {"epoch": 860, "run": "R₁₀₁", "ret": 1.1},
      {"epoch": 862, "run": "R₁₀₁", "ret": 1.25},
      {"epoch": 864, "run": "R₁₀₁", "ret": 1.05},
      {"epoch": 866, "run": "R₁₀₁", "ret": 0.85},
      {"epoch": 868, "run": "R₁₀₁", "ret": 1.15},
      {"epoch": 870, "run": "R₁₀₁", "ret": 1.38},
      {"epoch": 872, "run": "R₁₀₁", "ret": 1.2},
      {"epoch": 874, "run": "R₁₀₁", "ret": 1.05},
      {"epoch": 876, "run": "R₁₀₁", "ret": 1.25},
      {"epoch": 878, "run": "R₁₀₁", "ret": 1.2},
      {"epoch": 880, "run": "R₁₀₁", "ret": 1.05},
      {"epoch": 882, "run": "R₁₀₁", "ret": 0.9},
      {"epoch": 884, "run": "R₁₀₁", "ret": 1.15},
      {"epoch": 886, "run": "R₁₀₁", "ret": 1.3},
      {"epoch": 888, "run": "R₁₀₁", "ret": 1.1},
      {"epoch": 890, "run": "R₁₀₁", "ret": 0.95},
      {"epoch": 892, "run": "R₁₀₁", "ret": 1.2},
      {"epoch": 894, "run": "R₁₀₁", "ret": 1.18},
      {"epoch": 896, "run": "R₁₀₁", "ret": 1.0},
      {"epoch": 898, "run": "R₁₀₁", "ret": 0.88},
      {"epoch": 900, "run": "R₁₀₁", "ret": 1.1},
      {"epoch": 902, "run": "R₁₀₁", "ret": 1.25},
      {"epoch": 904, "run": "R₁₀₁", "ret": 1.05},
      {"epoch": 906, "run": "R₁₀₁", "ret": 0.82},
      {"epoch": 908, "run": "R₁₀₁", "ret": 1.05},
      {"epoch": 910, "run": "R₁₀₁", "ret": 1.2},
      {"epoch": 912, "run": "R₁₀₁", "ret": 1.1},
      {"epoch": 914, "run": "R₁₀₁", "ret": 1.0},
      {"epoch": 916, "run": "R₁₀₁", "ret": 1.2},
      {"epoch": 918, "run": "R₁₀₁", "ret": 1.42},
      {"epoch": 920, "run": "R₁₀₁", "ret": 1.1},
      {"epoch": 922, "run": "R₁₀₁", "ret": 0.9},
      {"epoch": 924, "run": "R₁₀₁", "ret": 1.15},
      {"epoch": 926, "run": "R₁₀₁", "ret": 1.25},
      {"epoch": 928, "run": "R₁₀₁", "ret": 1.05},
      {"epoch": 930, "run": "R₁₀₁", "ret": 0.75},
      {"epoch": 932, "run": "R₁₀₁", "ret": 1.05},
      {"epoch": 934, "run": "R₁₀₁", "ret": 1.2},
      {"epoch": 936, "run": "R₁₀₁", "ret": 1.15},
      {"epoch": 938, "run": "R₁₀₁", "ret": 1.1},
      {"epoch": 940, "run": "R₁₀₁", "ret": 1.2},
      {"epoch": 942, "run": "R₁₀₁", "ret": 1.3},
      {"epoch": 944, "run": "R₁₀₁", "ret": 1.1},
      {"epoch": 946, "run": "R₁₀₁", "ret": 0.95},
      {"epoch": 948, "run": "R₁₀₁", "ret": 1.2},
      {"epoch": 950, "run": "R₁₀₁", "ret": 1.45},
      {"epoch": 952, "run": "R₁₀₁", "ret": 1.15},
      {"epoch": 954, "run": "R₁₀₁", "ret": 0.95},
      {"epoch": 956, "run": "R₁₀₁", "ret": 1.1},
      {"epoch": 958, "run": "R₁₀₁", "ret": 1.22},
      {"epoch": 960, "run": "R₁₀₁", "ret": 1.05},
      {"epoch": 962, "run": "R₁₀₁", "ret": 0.43},
      {"epoch": 964, "run": "R₁₀₁", "ret": 1.1},
      {"epoch": 966, "run": "R₁₀₁", "ret": 1.4},
      {"epoch": 968, "run": "R₁₀₁", "ret": 1.2},
      {"epoch": 970, "run": "R₁₀₁", "ret": 1.0},
      {"epoch": 972, "run": "R₁₀₁", "ret": 1.25},
      {"epoch": 974, "run": "R₁₀₁", "ret": 1.48},
      {"epoch": 976, "run": "R₁₀₁", "ret": 1.15},
      {"epoch": 978, "run": "R₁₀₁", "ret": 0.85},
      {"epoch": 980, "run": "R₁₀₁", "ret": 1.1},
      {"epoch": 982, "run": "R₁₀₁", "ret": 1.3},
      {"epoch": 984, "run": "R₁₀₁", "ret": 1.1},
      {"epoch": 986, "run": "R₁₀₁", "ret": 0.75},
      {"epoch": 988, "run": "R₁₀₁", "ret": 1.05},
      {"epoch": 990, "run": "R₁₀₁", "ret": 1.25},
      {"epoch": 992, "run": "R₁₀₁", "ret": 1.15},
      {"epoch": 994, "run": "R₁₀₁", "ret": 1.0},
      {"epoch": 996, "run": "R₁₀₁", "ret": 1.2},
      {"epoch": 997, "run": "R₁₀₁", "ret": 0.8},
      {"epoch": 999, "run": "R₁₀₁", "ret": 1.22}
    ]
  },
  "encoding": {
    "x": {
      "field": "epoch",
      "type": "quantitative",
      "scale": {"domain": [-49.95, 1048.95], "nice": false, "zero": false},
      "axis": {"values": [0, 200, 400, 600, 800, 1000], "title": "Epoch", "format": "d"}
    },
    "y": {
      "field": "ret",
      "type": "quantitative",
      "scale": {"domain": [-1.675, 1.805], "nice": false, "zero": false},
      "axis": {"values": [-1, 0, 1], "title": "Episodic returns wrt R₁₀₀, R₁₀₁", "format": "d"}
    },
    "color": {
      "field": "run",
      "type": "nominal",
      "scale": {
        "domain": ["R₁₀₀", "R₁₀₁"],
        "range": ["#1f77b4", "#ff7f0e"]
      },
      "legend": {
        "orient": "none",
        "legendX": 533,
        "legendY": 659,
        "title": null,
        "labelExpr": "'PPO training on ' + datum.label",
        "symbolType": "M-1.6,0H5.35",
        "symbolSize": 1600,
        "symbolStrokeWidth": 6,
        "labelFont": "Liberation Sans",
        "labelFontSize": 63,
        "labelColor": "black",
        "labelLimit": 1000,
        "labelOffset": 124,
        "rowPadding": 33,
        "padding": 24,
        "strokeColor": "#cccccc",
        "cornerRadius": 10,
        "fillColor": "rgba(255,255,255,0.8)"
      }
    }
  },
  "layer": [
    {"data": {"name": "r100"}, "mark": {"type": "line", "strokeWidth": 6, "clip": true}},
    {"data": {"name": "r101"}, "mark": {"type": "line", "strokeWidth": 6, "clip": true}}
  ],
  "config": {
    "view": {"stroke": "black", "strokeWidth": 2},
    "axis": {
      "grid": false,
      "domain": false,
      "ticks": true,
      "tickColor": "black",
      "tickWidth": 2,
      "tickSize": 10,
      "labelFont": "Liberation Serif",
      "labelFontSize": 64,
      "labelColor": "black",
      "titleFont": "Liberation Sans",
      "titleFontSize": 60,
      "titleFontWeight": "normal",
      "titleColor": "black"
    },
    "axisX": {"labelPadding": 16, "titlePadding": 12},
    "axisY": {"labelPadding": 19, "titlePadding": 40, "titleFontSize": 64},
    "legend": {"strokeWidth": 2.5}
  }
}
